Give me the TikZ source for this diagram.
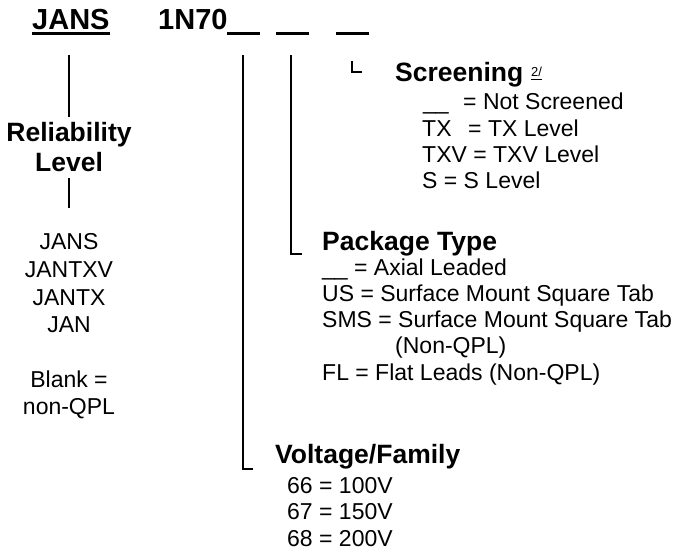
\documentclass[tikz,border=0pt]{standalone}
\usepackage{fontspec}
\setmainfont{Liberation Sans}
\begin{document}
\begin{tikzpicture}[x=1pt,y=-1pt,
  txt/.style={anchor=base west,inner sep=0pt,font=\fontsize{23}{27}\selectfont},
  txtc/.style={anchor=base,inner sep=0pt,font=\fontsize{23}{27}\selectfont},
  head/.style={anchor=base west,inner sep=0pt,font=\fontsize{26.5}{30}\selectfont\bfseries},
  headc/.style={anchor=base,inner sep=0pt,font=\fontsize{26.5}{30}\selectfont\bfseries},
  ttl/.style={anchor=base west,inner sep=0pt,font=\fontsize{29}{34}\selectfont\bfseries},
  conn/.style={line width=1.3pt},
  uline/.style={line width=3pt}]
\useasboundingbox (0,0) rectangle (689,552);
% title
\node[ttl] (jans) at (32,29) {JANS};
\node[ttl] (pn) at (158,29) {1N70};
\draw[uline] ([yshift=-4pt]jans.base west) -- ([yshift=-4pt]jans.base east);
\coordinate (b1l) at (227,33); \coordinate (b1r) at (260,33);
\coordinate (b2l) at (276,33); \coordinate (b2r) at (309,33);
\coordinate (b3l) at (336,33); \coordinate (b3r) at (369,33);
\draw[uline] (b1l) -- (b1r);
\draw[uline] (b2l) -- (b2r);
\draw[uline] (b3l) -- (b3r);
% reliability level
\node[headc] (rel1) at (69,141) {Reliability};
\node[headc] (rel2) at (69,171) {Level};
\coordinate (jansb) at (69,55);
\coordinate (relb) at (69,208);
\draw[conn] (jansb) -- ([yshift=5pt]rel1.north);
\draw[conn] ([yshift=-7pt]rel2.south) -- (relb);
\node[txtc] (r1) at (69,249) {JANS};
\node[txtc] (r2) at (69,277) {JANTXV};
\node[txtc] (r3) at (69,305) {JANTX};
\node[txtc] (r4) at (69,332) {JAN};
\node[txtc] (r5) at (69,387) {Blank =};
\node[txtc] (r6) at (69,414) {non-QPL};
% voltage/family
\node[head] (volt) at (275,463) {Voltage/Family};
\coordinate (a0) at (243,55); \coordinate (a1) at (243,469); \coordinate (a2) at (253,469);
\draw[conn] (a0) -- (a1) -- (a2);
\node[txt] (v1) at (287,493) {66 = 100V};
\node[txt] (v2) at (287,519) {67 = 150V};
\node[txt] (v3) at (287,546) {68 = 200V};
% package type
\node[head] (pkg) at (322,250) {Package Type};
\coordinate (c0) at (291,55); \coordinate (c1) at (291,254); \coordinate (c2) at (302,254);
\draw[conn] (c0) -- (c1) -- (c2);
\node[txt] (p1) at (322,275) {\_\_ = Axial Leaded};
\node[txt] (p2) at (322,301) {US = Surface Mount Square Tab};
\node[txt] (p3) at (322,327) {SMS = Surface Mount Square Tab};
\node[txt] (p4) at (395,353) {(Non-QPL)};
\node[txt] (p5) at (322,380) {FL = Flat Leads (Non-QPL)};
% screening
\node[head] (scr) at (395,81) {Screening};
\node[anchor=base west,inner sep=0pt,font=\fontsize{13}{15}\selectfont] (sup) at (531,76) {2/};
\draw[line width=0.8pt] ([yshift=-3pt]sup.base west) -- ([yshift=-3pt]sup.base east);
\coordinate (d0) at (352,61); \coordinate (d1) at (352,72); \coordinate (d2) at (362,72);
\draw[conn] (d0) -- (d1) -- (d2);
\node[txt] (s1) at (423,109) {\makebox[40pt][l]{\_\_}= Not Screened};
\node[txt] (s2) at (422,136) {\makebox[46pt][l]{TX}= TX Level};
\node[txt] (s3) at (422,162) {TXV = TXV Level};
\node[txt] (s4) at (422,188) {S = S Level};
\end{tikzpicture}
\end{document}
